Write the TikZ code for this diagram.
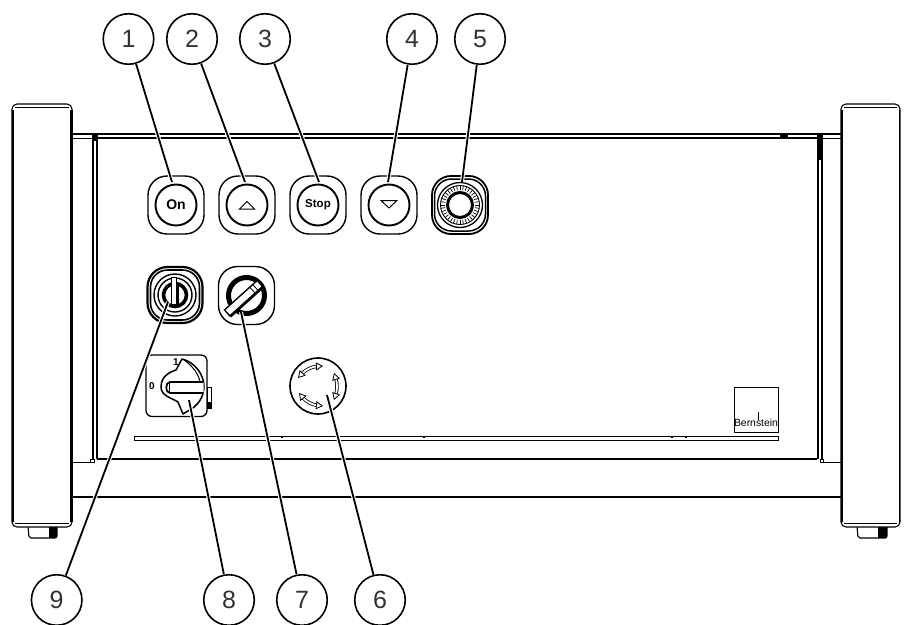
\documentclass[tikz,border=0pt]{standalone}
\usepackage{fontspec}
\setmainfont{Liberation Sans}
\usetikzlibrary{arrows.meta}
\definecolor{numgray}{HTML}{333333}
\tikzset{
  callout/.style={draw=black,line width=1.6pt,circle,minimum size=50.5pt,inner sep=0pt,fill=white,text=numgray,font=\fontsize{25}{25}\selectfont},
  leader/.style={draw=black,line width=1.8pt,preaction={draw=white,line width=4pt}},
  ln/.style={draw=black,line width=1.1pt},
  thin ln/.style={draw=black,line width=0.8pt},
  heavy/.style={draw=black,line width=2.4pt},
  turnarrow/.style={draw=black,line width=0.8pt,double=white,double distance=1.8pt,{Triangle[open,length=7pt,width=8pt,fill=white]}-{Triangle[open,length=7pt,width=8pt,fill=white]}},
  squirc/.style={draw=black,line width=1.4pt,rounded corners=19pt,fill=white},
  btnring/.style={draw=black,line width=1.9pt},
  btnlabel/.style={inner sep=0pt}
}
\newcommand{\legshape}[2]{%
  \draw[ln,rounded corners=5pt,fill=white] (#1,104) rectangle (#2,527);
  \draw[thin ln] (#1+3,107.5) -- (#2-3,107.5);
  \draw[thin ln] (#1+3,523.5) -- (#2-3,523.5);
}
\begin{document}
\begin{tikzpicture}[x=1pt,y=-1pt]
\useasboundingbox[fill=white] (0,0) rectangle (905,624);

% feet
\draw[ln,rounded corners=2pt,fill=white] (28,526) -- (29,538) -- (57,538) -- (57,526);
\fill[black] (49,527) rectangle (57,538);
\draw[ln,rounded corners=2pt,fill=white] (857,526) -- (858,538) -- (887,538) -- (887,526);
\fill[black] (878,527) rectangle (887,538);

% legs
\legshape{12}{72}
\draw[heavy,line width=3.4pt] (71.5,110) -- (71.5,522);
\draw[heavy,line width=2pt] (12.5,110) -- (12.5,522);
\legshape{841}{900}
\draw[heavy,line width=2pt] (841.5,110) -- (841.5,522);
\draw[heavy,line width=1.8pt] (899.5,110) -- (899.5,522);

% top rail
\draw[ln] (72,134) -- (92,134);
\draw[ln] (72,138.5) -- (92,138.5);
\draw[ln] (822,134) -- (841,134);
\draw[ln] (822,138.5) -- (841,138.5);
\draw[draw=black,line width=1.7pt] (92,134) -- (822,134);
\draw[draw=black,line width=1.7pt] (92,138) -- (822,138);
\fill[black] (780,134) rectangle (788,138);

% inner uprights
\draw[heavy,line width=2pt] (93,134) -- (93,459);
\draw[heavy,line width=2pt] (97,134) -- (97,459);
\fill[black] (92,134) rectangle (98,141);
\draw[heavy,line width=2pt] (817.5,134) -- (817.5,459);
\draw[heavy,line width=2pt] (821.5,134) -- (821.5,459);
\fill[black] (816.5,134) rectangle (822.5,160);

% lower rails
\draw[draw=black,line width=1.5pt] (97,459) -- (817,459);
\draw[thin ln] (72,462) -- (92,462);
\draw[thin ln] (822,462) -- (841,462);
\draw[thin ln,fill=white] (90,459) rectangle (94,462.5);
\draw[thin ln,fill=white] (820,459) rectangle (823.5,462.5);
\draw[draw=black,line width=2.2pt] (72,497) -- (841,497);

% slot
\draw[thin ln,line width=1pt] (134,436) rectangle (778,440);
\foreach \tx in {198,282,424,672,686} \draw[thin ln,line width=1.2pt] (\tx,435.5) -- (\tx,437.5);

% logo plate
\draw[ln,line width=1pt] (734,387) rectangle (778,432);
\node[inner sep=0pt,font=\fontsize{10.4}{11}\selectfont] (logotext) at (756,423) {Bernstein};
\draw[thin ln] (758.5,412) -- (758.5,420);

% button 1 On
\begin{scope}[shift={(176,205)}]
  \draw[squirc] (-28,-29) rectangle (28,29);
  \draw[btnring] (0,0) circle[radius=20.5pt];
  \node[btnlabel,font=\bfseries\fontsize{14}{14}\selectfont] (onlabel) at (0,0) {On};
\end{scope}
% button 2 up
\begin{scope}[shift={(247,205)}]
  \draw[squirc] (-28,-29) rectangle (28,29);
  \draw[btnring] (0,0) circle[radius=20.5pt];
  \draw[thin ln,line width=1pt,line join=miter] (-7.5,4) -- (0,-3.5) -- (7.5,4) -- cycle;
\end{scope}
% button 3 stop
\begin{scope}[shift={(318,205)}]
  \draw[squirc] (-28,-29) rectangle (28,29);
  \draw[btnring] (0,0) circle[radius=20.5pt];
  \node[btnlabel,font=\bfseries\fontsize{11.5}{12}\selectfont] (stoplabel) at (0,0) {Stop};
\end{scope}
% button 4 down
\begin{scope}[shift={(389,205)}]
  \draw[squirc] (-28,-29) rectangle (28,29);
  \draw[btnring] (0,0) circle[radius=20.5pt];
  \draw[thin ln,line width=1pt,line join=miter] (-8,-4.5) -- (0,3) -- (8,-4.5) -- cycle;
\end{scope}
% button 5 dial
\begin{scope}[shift={(460,205)}]
  \draw[squirc,line width=1.8pt] (-28,-29) rectangle (28,29);
  \draw[draw=black,line width=1.5pt,rounded corners=17pt] (-25.5,-26) rectangle (25.5,26);
  \draw[draw=black,line width=1.3pt] (0,0) circle[radius=22.5pt];
  \draw[draw=black,line width=0.9pt] (0,0) circle[radius=19.5pt];
  \foreach \a in {0,10,...,350} \draw[thin ln,line width=0.7pt] (\a:15pt) -- (\a:19.5pt);
  \draw[draw=black,line width=3pt,fill=white] (0,0) circle[radius=12.5pt];
\end{scope}
% key switch 9
\begin{scope}[shift={(175,295)}]
  \draw[draw=black,line width=2.2pt,rounded corners=20pt,fill=white] (-27.5,-28) rectangle (27.5,28);
  \draw[draw=black,line width=1.6pt,rounded corners=17pt] (-24.5,-25) rectangle (24.5,25);
  \draw[draw=black,line width=1.4pt] (0,0) circle[radius=21pt];
  \draw[draw=black,line width=1.4pt] (0,0) circle[radius=17pt];
  \draw[draw=black,line width=3.6pt] (0,0) circle[radius=11.5pt];
  \draw[thin ln,line width=1pt,fill=white] (-4,-18) rectangle (1.5,9);
  \fill[black] (1.5,-12) rectangle (4,9);
\end{scope}
% selector 7
\begin{scope}[shift={(246.5,295.5)}]
  \draw[squirc] (-28,-29) rectangle (28,29);
  \draw[draw=black,line width=5pt] (0,0) circle[radius=18pt];
  \begin{scope}[rotate=42]
    \draw[draw=black,line width=1.4pt,fill=white] (-26,-4) rectangle (18,4);
    \fill[black] (-26,4) rectangle (18,6);
    \draw[thin ln] (8,-4) -- (8,4);
    \draw[thin ln] (12,-4) -- (12,4);
  \end{scope}
\end{scope}
% main switch 8
\draw[draw=black,line width=1.3pt,rounded corners=6pt,fill=white] (146,355) rectangle (207,416.5);
\draw[draw=black,line width=0.9pt,fill=white] (207,387) rectangle (211,408);
\fill[black] (207.5,402) rectangle (211,408);
\node[inner sep=0pt,font=\bfseries\fontsize{10}{10}\selectfont] (offlabel) at (152,386) {0};
\node[inner sep=0pt,font=\bfseries\fontsize{10}{10}\selectfont] (onpos) at (176,362) {1};
\draw[draw=black,line width=1.5pt,fill=white,line join=round]
  (182,359) -- (176,370) .. controls (170,372) and (161,376) .. (161,387)
  .. controls (161,396) and (172,398) .. (178,402) -- (183,414) -- (188,411)
  .. controls (198,406) and (204,397) .. (204,386)
  .. controls (204,375) and (195,362) .. (182,359) -- cycle;
\draw[thin ln,line width=1pt] (184,360) .. controls (193,366) and (199,375) .. (200,382);
\draw[draw=black,line width=1.7pt,fill=white] (203.5,382) -- (170,382) .. controls (165,382) and (165,393) .. (170,393) -- (203.5,393);
\draw[thin ln] (169,383) -- (169,392);
% emergency stop 6
\draw[draw=black,line width=1.6pt] (318,386) circle[radius=28pt];
\coordinate (a1) at (298,378);
\coordinate (a2) at (323,366);
\coordinate (a3) at (334,373);
\coordinate (a4) at (334,400);
\coordinate (a5) at (299,393);
\coordinate (a6) at (323,406);
\draw[turnarrow] (a1) to[bend left=22] (a2);
\draw[turnarrow] (a3) to[bend left=18] (a4);
\draw[turnarrow] (a5) to[bend right=22] (a6);

% callouts
\node[callout] (c1) at (128.5,39) {1};
\node[callout] (c2) at (192,39) {2};
\node[callout] (c3) at (265,39) {3};
\node[callout] (c4) at (412,39) {4};
\node[callout] (c5) at (480,39) {5};
\node[callout] (c9) at (56.7,600) {9};
\node[callout] (c8) at (229,600) {8};
\node[callout] (c7) at (302,600) {7};
\node[callout] (c6) at (380,600) {6};

\coordinate (t1) at (172,182);
\coordinate (t2) at (245,182);
\coordinate (t3) at (319,182);
\coordinate (t4) at (388,182);
\coordinate (t5) at (462,182);
\coordinate (t9) at (168,302);
\coordinate (t8) at (189,400);
\coordinate (t7) at (241,312);
\coordinate (t6) at (327,395);

\foreach \n in {1,2,3,4,5,6,7,8,9} \draw[leader] (c\n) -- (t\n);
\end{tikzpicture}
\end{document}
